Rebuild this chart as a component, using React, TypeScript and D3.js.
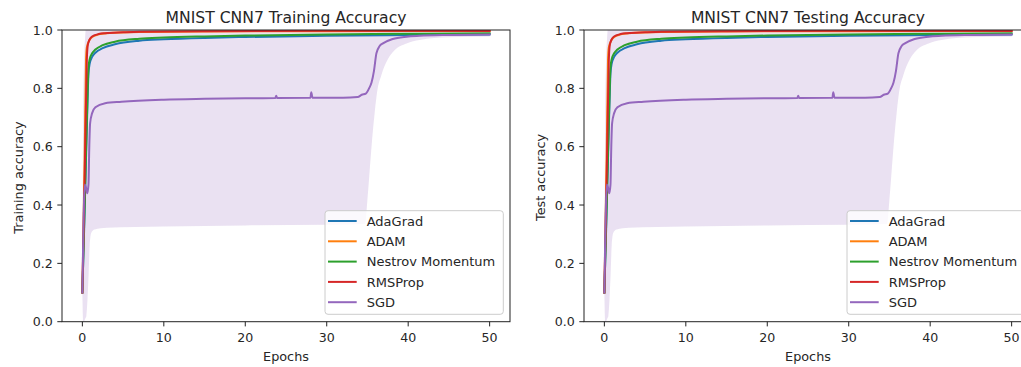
import React from "react";
import * as d3 from "d3";

// Optimizer names and their line colours (matplotlib tab10)
const seriesNames = ["AdaGrad", "ADAM", "Nestrov Momentum", "RMSProp", "SGD"];
const seriesColors = ["#1f77b4", "#ff7f0e", "#2ca02c", "#d62728", "#9467bd"];

// Mean accuracy per optimizer as [epoch, accuracy]
const adagrad: [number, number][] = [
  [0, 0.1], [0.3, 0.4], [0.6, 0.72], [0.75, 0.85], [0.9, 0.885], [1.2, 0.908],
  [1.6, 0.922], [2.5, 0.938], [4, 0.951], [7, 0.963], [10, 0.968], [15, 0.973],
  [20, 0.976], [30, 0.98], [40, 0.983], [50, 0.985],
];
const adam: [number, number][] = [
  [0, 0.1], [0.3, 0.6], [0.45, 0.9], [0.55, 0.94], [0.8, 0.962], [1.15, 0.975],
  [2, 0.985], [3, 0.989], [7, 0.993], [15, 0.995], [30, 0.996], [50, 0.997],
];
const nesterov: [number, number][] = [
  [0, 0.1], [0.3, 0.42], [0.6, 0.74], [0.75, 0.87], [0.9, 0.9], [1.2, 0.92],
  [1.6, 0.933], [2.5, 0.948], [4, 0.96], [7, 0.97], [10, 0.974], [15, 0.978],
  [20, 0.981], [30, 0.985], [40, 0.987], [50, 0.989],
];
const rmsprop: [number, number][] = [
  [0, 0.1], [0.3, 0.52], [0.55, 0.9], [0.65, 0.945], [0.85, 0.965], [1.15, 0.977],
  [2, 0.986], [2.8, 0.989], [5, 0.992], [7, 0.994], [15, 0.996], [30, 0.997],
  [50, 0.997],
];
const sgd: [number, number][] = [
  [0, 0.1], [0.3, 0.47], [0.45, 0.46], [0.6, 0.44], [0.75, 0.47], [0.85, 0.6],
  [0.95, 0.68], [1.2, 0.715], [1.6, 0.735], [2.8, 0.749], [4.8, 0.754],
  [10, 0.761], [15, 0.764], [20, 0.766], [23.7, 0.767], [23.8, 0.775],
  [23.9, 0.767], [28, 0.768], [28.1, 0.787], [28.25, 0.768], [32, 0.768],
  [33.8, 0.77], [34.3, 0.778], [34.8, 0.782], [35.2, 0.8], [35.5, 0.82],
  [35.8, 0.86], [36.1, 0.92], [36.5, 0.945], [36.9, 0.954], [38.1, 0.969],
  [39.8, 0.977], [41.4, 0.98], [45, 0.983], [50, 0.985],
];
const seriesData = [adagrad, adam, nesterov, rmsprop, sgd];

// SGD spread (mean ± std) across runs
const bandEpochs = [
  0, 0.1, 0.2, 0.35, 0.5, 0.75, 0.9, 1.1, 1.5, 3, 10, 20, 30, 34.7, 35.0, 35.5,
  35.9, 36.2, 36.7, 37.5, 38.3, 39.8, 41.4, 45, 50,
];
const bandLower = [
  0.1, 0.0, 0.0, 0.01, 0.02, 0.15, 0.26, 0.305, 0.316, 0.322, 0.326, 0.33, 0.332,
  0.335, 0.42, 0.6, 0.72, 0.79, 0.845, 0.9, 0.93, 0.954, 0.966, 0.975, 0.978,
];
const bandUpper = [
  0.1, 0.7, 0.88, 0.98, 1.02, 1.02, 1.02, 1.02, 1.02, 1.02, 1.02, 1.02, 1.02,
  1.02, 1.02, 1.02, 1.01, 1.0, 0.998, 0.995, 0.993, 0.992, 0.991, 0.99, 0.99,
];

const xTicks = [0, 10, 20, 30, 40, 50];
const yTicks = [0, 0.2, 0.4, 0.6, 0.8, 1.0];

const FONT = "'DejaVu Sans', sans-serif";
const TEXT = "#262626";

type PanelProps = {
  id: string;
  left: number;
  title: string;
  ylabel: string;
};

function Panel({ id, left, title, ylabel }: PanelProps) {
  const width = 448;
  const top = 30;
  const bottom = 321.7;
  const right = left + width;
  const x = d3.scaleLinear().domain([-2.5, 52.5]).range([left, right]);
  const y = d3.scaleLinear().domain([0, 1]).range([bottom, top]);

  const line = d3
    .line<[number, number]>()
    .x((d) => x(d[0]))
    .y((d) => y(d[1]))
    .curve(d3.curveMonotoneX);

  const area = d3
    .area<number>()
    .x((_, i) => x(bandEpochs[i]))
    .y0((_, i) => y(bandLower[i]))
    .y1((_, i) => y(bandUpper[i]))
    .curve(d3.curveMonotoneX);

  const cx = (left + right) / 2;
  const clipId = `clip-${id}`;

  // legend geometry
  const legRight = right - 6.7;
  const legW = 178.3;
  const legLeft = legRight - legW;
  const legTop = 210.7;
  const legH = 103.6;
  const rowY = (i: number) => 221 + i * 20.3;

  return (
    <g>
      <defs>
        <clipPath id={clipId}>
          <rect x={left} y={top} width={width} height={bottom - top} />
        </clipPath>
      </defs>
      <g clipPath={`url(#${clipId})`}>
        <path d={area(bandEpochs) || ""} fill="#9467bd" fillOpacity={0.2} stroke="none" />
        {seriesData.map((s, i) => (
          <path
            key={seriesNames[i]}
            d={line(s) || ""}
            fill="none"
            stroke={seriesColors[i]}
            strokeWidth={2}
            strokeLinejoin="round"
            strokeLinecap="square"
          />
        ))}
      </g>

      {/* frame */}
      <rect
        x={left}
        y={top}
        width={width}
        height={bottom - top}
        fill="none"
        stroke="#222"
        strokeWidth={1}
      />

      {/* x axis */}
      {xTicks.map((t) => (
        <g key={`x${t}`}>
          <line x1={x(t)} x2={x(t)} y1={bottom} y2={bottom + 4.7} stroke="#222" strokeWidth={1} />
          <text
            x={x(t)}
            y={342.3}
            textAnchor="middle"
            fontFamily={FONT}
            fontSize={12.6}
            fill={TEXT}
          >
            {t}
          </text>
        </g>
      ))}
      <text x={cx} y={361} textAnchor="middle" fontFamily={FONT} fontSize={12.8} fill={TEXT}>
        Epochs
      </text>

      {/* y axis */}
      {yTicks.map((t) => (
        <g key={`y${t}`}>
          <line x1={left - 4.7} x2={left} y1={y(t)} y2={y(t)} stroke="#222" strokeWidth={1} />
          <text
            x={left - 9.3}
            y={y(t) + 4.6}
            textAnchor="end"
            fontFamily={FONT}
            fontSize={12.6}
            fill={TEXT}
          >
            {t.toFixed(1)}
          </text>
        </g>
      ))}
      <text
        transform={`translate(${left - 39.5},${177.5}) rotate(-90)`}
        textAnchor="middle"
        fontFamily={FONT}
        fontSize={12.8}
        fill={TEXT}
      >
        {ylabel}
      </text>

      {/* title */}
      <text x={cx} y={22.5} textAnchor="middle" fontFamily={FONT} fontSize={15.6} fill={TEXT}>
        {title}
      </text>

      {/* legend */}
      <rect
        x={legLeft}
        y={legTop}
        width={legW}
        height={legH}
        rx={3}
        fill="#fff"
        fillOpacity={0.8}
        stroke="#cccccc"
        strokeWidth={1}
      />
      {seriesNames.map((name, i) => (
        <g key={`l${name}`}>
          <line
            x1={legLeft + 3}
            x2={legLeft + 31.7}
            y1={rowY(i)}
            y2={rowY(i)}
            stroke={seriesColors[i]}
            strokeWidth={2}
          />
          <text
            x={legLeft + 41.7}
            y={rowY(i) + 4.8}
            fontFamily={FONT}
            fontSize={13}
            fill={TEXT}
          >
            {name}
          </text>
        </g>
      ))}
    </g>
  );
}

export default function App() {
  return (
    <svg
      width={1021}
      height={367}
      style={{ position: "absolute", left: 0, top: 0, background: "#fff" }}
    >
      <rect x={0} y={0} width={1021} height={367} fill="#fff" />
      <Panel id="train" left={62} title="MNIST CNN7 Training Accuracy" ylabel="Training accuracy" />
      <Panel id="test" left={584} title="MNIST CNN7 Testing Accuracy" ylabel="Test accuracy" />
    </svg>
  );
}
